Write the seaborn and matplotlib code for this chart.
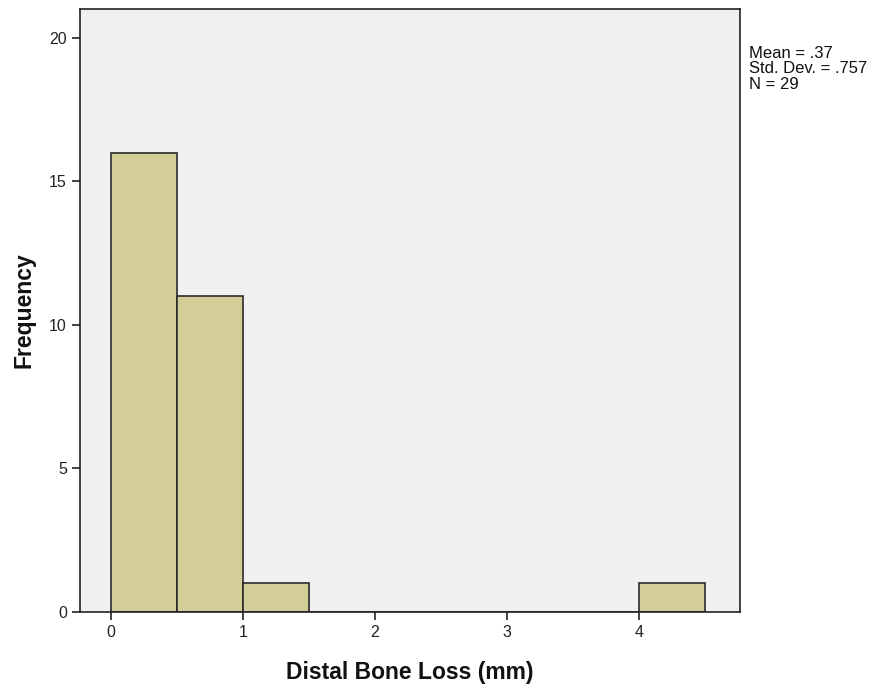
import numpy as np
import matplotlib
matplotlib.use("Agg")
import matplotlib.pyplot as plt
import seaborn as sns

# histogram bins (mm) and frequencies
bin_edges = [0.0, 0.5, 1.0, 1.5, 2.0, 2.5, 3.0, 3.5, 4.0, 4.5]
counts = [16, 11, 1, 0, 0, 0, 0, 0, 1]
x_ticks = [0, 1, 2, 3, 4]
y_ticks = [0, 5, 10, 15, 20]
stats_text = "Mean = .37\nStd. Dev. = .757\nN = 29"

sns.set_theme(style="white")
plt.rcParams['font.family'] = ['Liberation Sans', 'DejaVu Sans']

fig = plt.figure(figsize=(8.78, 6.91), dpi=100)
ax = fig.add_axes([0.0911, 0.1143, 0.752, 0.8727])
ax.set_facecolor("#F0F0F0")

centers = [(a + b) / 2 for a, b in zip(bin_edges[:-1], bin_edges[1:])]
sns.histplot(x=centers, weights=counts, bins=bin_edges, ax=ax,
             color="#D3CE97", alpha=1, edgecolor="#2b2b2b", linewidth=1.2)

ax.set_xlim(-0.235, 4.765)
ax.set_ylim(0, 21.0)
ax.set_xticks(x_ticks)
ax.set_yticks(y_ticks)
ax.tick_params(axis="both", direction="out", length=6, width=1.2,
               colors="#222222", labelsize=11.5, bottom=True, left=True)
for s in ax.spines.values():
    s.set_color("#222222")
    s.set_linewidth(1.2)

ax.set_xlabel("Distal Bone Loss (mm)", fontsize=16.5, fontweight="bold",
              labelpad=15, color="#111111")
ax.set_ylabel("Frequency", fontsize=16.5, fontweight="bold",
              labelpad=10, color="#111111")

fig.text(0.853, 0.934, stats_text, fontsize=12, va="top", ha="left",
         linespacing=1.06, color="#111111")

fig.savefig("out.png", dpi=100)
